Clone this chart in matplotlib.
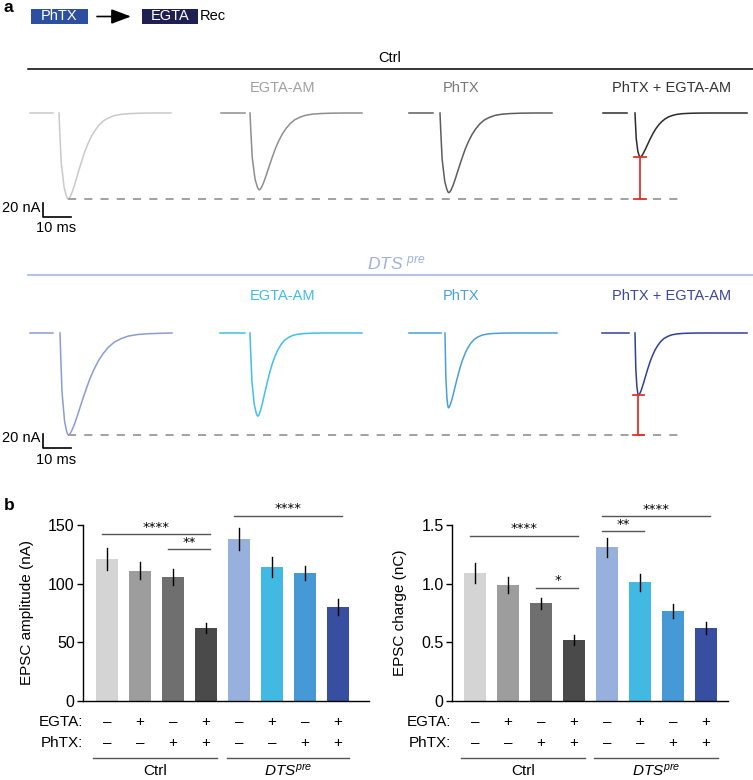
import numpy as np
import matplotlib
matplotlib.use("Agg")
import matplotlib.pyplot as plt
from matplotlib.transforms import blended_transform_factory
from matplotlib.patches import Rectangle

plt.rcParams['font.family'] = ['Liberation Sans', 'DejaVu Sans']
plt.rcParams['mathtext.fontset'] = 'custom'
plt.rcParams['mathtext.it'] = 'Liberation Sans:italic'
plt.rcParams['mathtext.rm'] = 'Liberation Sans'

# ---------------- data ----------------
conditions = ["Ctrl", "EGTA-AM", "PhTX", "PhTX + EGTA-AM"]
egta_signs = ["–", "+", "–", "+", "–", "+", "–", "+"]
phtx_signs = ["–", "–", "+", "+", "–", "–", "+", "+"]
groups = ["Ctrl", "DTS"]

# EPSC traces: peak amplitudes (nA) and time scaling of rise/decay
ctrl_amp = [123, 110, 114, 63]
dts_amp = [146, 119, 107, 89]
ctrl_rise_scale = [1.0, 1.0, 0.95, 0.55]
ctrl_decay_scale = [1.0, 1.0, 1.0, 0.8]
dts_rise_scale = [0.9, 0.85, 0.37, 0.37]
dts_decay_scale = [1.3, 0.75, 0.72, 0.72]
# normalised EPSC waveform (ms, fraction of peak)
rise_t = [0, 0.25, 0.8, 1.8, 2.6, 3.0, 3.3]
rise_f = [0, 0.2, 0.58, 0.86, 0.96, 0.99, 1.0]
decay_t = [0.4, 0.9, 1.5, 2.3, 3.3, 4.5, 5.8, 7.0, 8.3, 9.6, 11.0, 12.6, 14.5, 16.5, 19.0, 22.0, 26.0, 31.0]
decay_f = [0.99, 0.96, 0.91, 0.83, 0.72, 0.59, 0.46, 0.36, 0.27, 0.2, 0.14, 0.09, 0.055, 0.03, 0.015, 0.007, 0.002, 0.0]

# bar charts
amp_mean = [121, 111, 105.5, 62, 138, 114, 109, 80]
amp_err = [9, 7.5, 6.7, 4.5, 9.5, 8.5, 6.3, 6.7]
chg_mean = [1.09, 0.985, 0.83, 0.52, 1.31, 1.01, 0.765, 0.62]
chg_err = [0.085, 0.068, 0.047, 0.043, 0.08, 0.07, 0.057, 0.053]
amp_sig = [(0, 3, 142, "****"), (2, 3, 129.5, "**"), (4, 7, 158, "****")]
chg_sig = [(0, 3, 1.41, "****"), (2, 3, 0.965, "*"), (4, 5, 1.45, "**"), (4, 7, 1.577, "****")]

ctrl_colors = ["#c9c9c9", "#8e8e8e", "#5c5c5c", "#2b2b2b"]
dts_colors = ["#8c9bd2", "#3fc0ea", "#4a9edd", "#303f98"]
ctrl_title_colors = ["#a0a0a0", "#a0a0a0", "#777777", "#333333"]
dts_title_colors = ["#9fb0df", "#3cbde8", "#4aa0dc", "#38479a"]
bar_colors = ["#d4d4d4", "#9d9d9d", "#6f6f6f", "#4a4a4a",
              "#98b1dc", "#42b9e2", "#4599d4", "#384ea0"]

# ---------------- layout ----------------
W, H = 753, 780
fig = plt.figure(figsize=(W / 100, H / 100), dpi=100)

ov = fig.add_axes([0, 0, 1, 1])
ov.set_xlim(0, W)
ov.set_ylim(H, 0)
ov.axis('off')
ov.patch.set_alpha(0)

PX_PER_MS = 2.8
NA_PER_PX = 1.43

# panel label a
ov.text(4, 8, "a", fontsize=12.5, fontweight='bold', ha='left', va='center')
ov.add_patch(Rectangle((31, 9), 57, 15, facecolor="#2d4fa0", edgecolor='none'))
ov.text(59.5, 16.5, "PhTX", color='white', fontsize=10.5, ha='center', va='center')
ov.annotate('', xy=(131, 16.5), xytext=(97, 16.5),
            arrowprops=dict(arrowstyle='-|>,head_length=0.8,head_width=0.3',
                            color='k', lw=1.2, mutation_scale=15, shrinkA=0, shrinkB=0))
ov.add_patch(Rectangle((142, 9), 56, 15, facecolor="#1d2050", edgecolor='none'))
ov.text(170, 16.5, "EGTA", color='white', fontsize=10.5, ha='center', va='center')
ov.text(200, 16.5, "Rec", color='black', fontsize=10.5, ha='left', va='center')

# section headers
ov.plot([28, W], [69, 69], color='black', lw=1.1)
ov.text(390, 58, "Ctrl", fontsize=10.5, ha='center', va='center')
ov.plot([28, W], [275, 275], color="#a6b8e4", lw=1.2)
ov.text(396, 264, r'$DTS^{\ pre}$', fontsize=12.5, color="#a0b0df", ha='center', va='center')

title_x = [None, 283, 461, 672]
for i in range(1, 4):
    ov.text(title_x[i], 88, conditions[i], fontsize=10.5, color=ctrl_title_colors[i],
            ha='center', va='center')
    ov.text(title_x[i], 296, conditions[i], fontsize=10.5, color=dts_title_colors[i],
            ha='center', va='center')

ctrl_onset_px = [59, 250, 440, 635]
ctrl_pre_px = [(30, 53), (221, 245), (409, 433), (603, 627)]
dts_onset_px = [60, 250, 445, 635]
dts_pre_px = [(30, 53), (220, 245), (409, 441), (602, 629)]


def trace_row(base_px, amps, rises, decays, colors, onsets, pres, sb_bottom, sb_txt_y, ms_txt_y):
    ax = fig.add_axes([0, 0, 1, 1])
    ax.patch.set_alpha(0)
    ax.axis('off')
    ax.set_xlim(0, W / PX_PER_MS)
    ax.set_ylim((base_px - H) * NA_PER_PX, base_px * NA_PER_PX)
    px2ms = lambda x: x / PX_PER_MS
    py2na = lambda p: (base_px - p) * NA_PER_PX
    rt = np.array(rise_t)
    dt = np.array(decay_t)
    for i in range(4):
        t = np.concatenate([rt * rises[i], rt[-1] * rises[i] + dt * decays[i]])
        f = np.concatenate([rise_f, decay_f])
        keep = t < 40
        t = np.append(t[keep], 40)
        f = np.append(f[keep], 0)
        x0 = px2ms(onsets[i])
        ax.plot(x0 + t, -amps[i] * f, color=colors[i], lw=1.1, solid_joinstyle='round')
        ax.plot([px2ms(pres[i][0]), px2ms(pres[i][1])], [0, 0], color=colors[i], lw=1.1)
    # peak positions
    peak0 = px2ms(onsets[0]) + rise_t[-1] * rises[0]
    peak3 = px2ms(onsets[3]) + rise_t[-1] * rises[3]
    ax.plot([peak0, px2ms(678)], [-amps[0], -amps[0]], color="#9a9a9a", lw=1.3,
            dashes=(4.5, 4.5))
    ax.plot([peak3, peak3], [-amps[3], -amps[0]], color="#e8302a", lw=1.3)
    for yv in (-amps[3], -amps[0]):
        ax.plot([peak3 - 2, peak3 + 2], [yv, yv], color="#e8302a", lw=1.3)
    # scale bar
    xs, ys = px2ms(43), py2na(sb_bottom)
    ax.plot([xs, xs, xs + 10], [ys + 20, ys, ys], color='black', lw=1.2)
    ax.text(px2ms(40), py2na(sb_txt_y), "20 nA", fontsize=10.5, ha='right', va='center')
    ax.text(px2ms(56), py2na(ms_txt_y), "10 ms", fontsize=10.5, ha='center', va='center')
    return ax


trace_row(113, ctrl_amp, ctrl_rise_scale, ctrl_decay_scale, ctrl_colors,
          ctrl_onset_px, ctrl_pre_px, 217, 208, 228)
trace_row(333, dts_amp, dts_rise_scale, dts_decay_scale, dts_colors,
          dts_onset_px, dts_pre_px, 448, 438, 460)

# ---------------- panel b ----------------
ov.text(4, 505, "b", fontsize=12.5, fontweight='bold', ha='left', va='center')


def rect(l, t, r, b):
    return [l / W, 1 - b / H, (r - l) / W, (b - t) / H]


def bar_panel(axrect, xlim, means, errs, ymax, yticks, yticklabels, ylabel, sigs,
              label_right, ylabel_x, grp_spans):
    ax = fig.add_axes(rect(*axrect))
    ax.patch.set_alpha(0)
    x = np.arange(len(means))
    ax.bar(x, means, width=0.66, color=bar_colors, edgecolor='none', zorder=1)
    for xi, m, e in zip(x, means, errs):
        ax.plot([xi, xi], [m - e, m + e], color='black', lw=1.0, zorder=3)
    ax.set_xlim(*xlim)
    ax.set_ylim(0, ymax)
    ax.set_yticks(yticks)
    ax.set_yticklabels(yticklabels, fontsize=11.5)
    ax.set_xticks([])
    for s in ('top', 'right'):
        ax.spines[s].set_visible(False)
    ax.spines['left'].set_linewidth(1.0)
    ax.spines['bottom'].set_linewidth(1.0)
    ax.tick_params(axis='y', length=4, width=1.0, pad=2)
    ax.set_ylabel(ylabel, fontsize=11)
    ax.yaxis.set_label_coords(ylabel_x, 0.5, transform=blended_transform_factory(ov.transData, ax.transAxes))
    for i, j, yv, txt in sigs:
        ax.plot([i - 0.15, j + 0.12], [yv, yv], color="#555555", lw=1.0, clip_on=False)
        ax.text((i + j) / 2, yv + ymax * 0.001, txt, fontsize=9.5, ha='center', va='bottom',
                family='DejaVu Sans', clip_on=False)
    tr = blended_transform_factory(ax.transData, ov.transData)
    for xi in x:
        ax.text(xi, 722, egta_signs[xi], fontsize=11, ha='center', va='center',
                transform=tr)
        ax.text(xi, 743, phtx_signs[xi], fontsize=11, ha='center', va='center',
                transform=tr)
    ov.text(label_right, 722, "EGTA:", fontsize=11, ha='right', va='center')
    ov.text(label_right, 743, "PhTX:", fontsize=11, ha='right', va='center')
    for (a, b), name in zip(grp_spans, ["Ctrl", r'$DTS^{pre}$']):
        ax.plot([a, b], [758, 758], color="#555555", lw=1.0, transform=tr, clip_on=False)
        ax.text((a + b) / 2, 771, name, fontsize=11, ha='center', va='center',
                transform=tr)
    return ax


bar_panel((83, 525, 369, 700.7), (-0.727, 7.94), amp_mean, amp_err, 150,
          [0, 50, 100, 150], ["0", "50", "100", "150"], "EPSC amplitude (nA)",
          amp_sig, 83, 34, [(-0.42, 3.33), (3.64, 7.33)])
bar_panel((452, 525, 728, 700.7), (-0.70, 7.67), chg_mean, chg_err, 1.5,
          [0, 0.5, 1.0, 1.5], ["0", "0.5", "1.0", "1.5"], "EPSC charge (nC)",
          chg_sig, 451, 407, [(-0.42, 3.33), (3.6, 7.36)])

fig.savefig("out.png", dpi=100)
